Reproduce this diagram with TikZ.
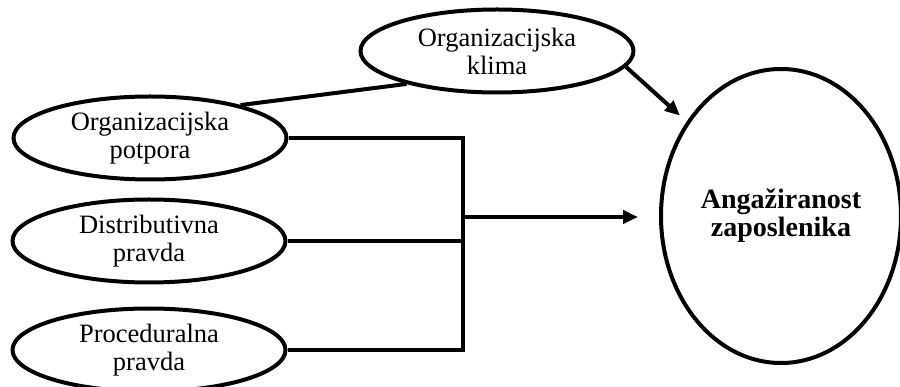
\documentclass[tikz,border=0pt]{standalone}
\usepackage{fontspec}
\setmainfont{Liberation Serif}
\usetikzlibrary{shapes.geometric,arrows.meta}
\begin{document}
\begin{tikzpicture}[x=1pt,y=-1pt,
  oval/.style={draw,line width=4pt,ellipse,inner sep=0pt,minimum width=273pt,minimum height=83pt,align=center,font=\fontsize{26.5}{28}\selectfont},
  big/.style={draw,line width=4pt,ellipse,inner sep=0pt,minimum width=240pt,minimum height=294pt,align=center,font=\fontsize{28}{28}\selectfont\bfseries},
  conn/.style={line width=4pt},
  arr/.style={line width=4pt,-{Triangle[length=15pt,width=13pt]}}]
\useasboundingbox (0,0) rectangle (900,387);
\clip (0,0) rectangle (900,387);
\node[oval] (kl) at (497,51) {Organizacijska\\klima};
\node[oval] (pot) at (150,138) {Organizacijska\\potpora};
\node[oval] (dis) at (149,241) {Distributivna\\pravda};
\node[oval] (pro) at (149,350) {Proceduralna\\pravda};
\node[big] (ang) at (781,216) {Angažiranost\\zaposlenika};
\coordinate (j1) at (463,138);
\coordinate (j2) at (463,241);
\coordinate (j3) at (463,350);
\coordinate (jm) at (463,217);
\draw[conn] (pot.20) -- (kl.200);
\draw[conn,line join=miter] (pot.east) -- (j1) -- (j3) -- (pro.east);
\draw[conn] (dis.east) -- (j2);
\draw[arr,shorten >=21pt] (jm) -- (jm -| ang.west);
\draw[arr,shorten >=9pt] (kl.-7) -- (ang.135);
\end{tikzpicture}
\end{document}
